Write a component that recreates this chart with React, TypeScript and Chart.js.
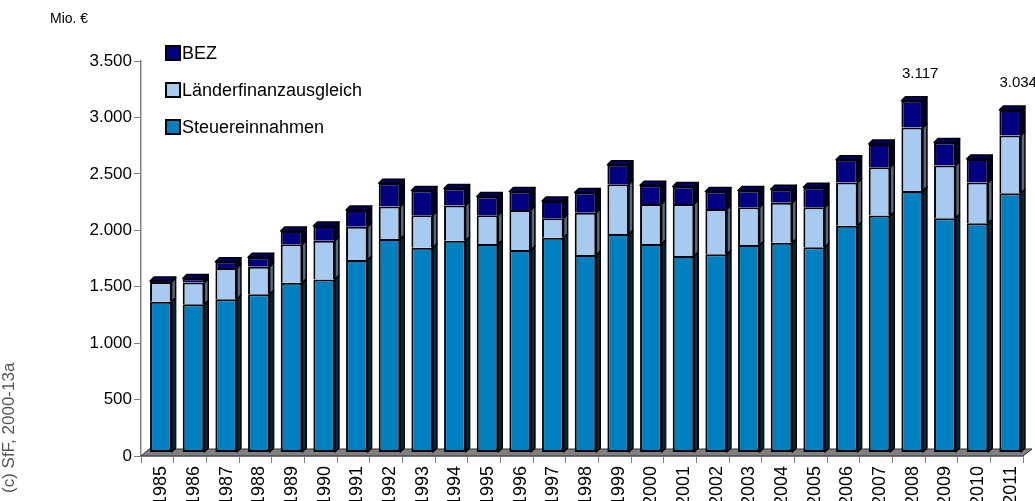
import React, { useEffect, useRef } from "react";
import { Chart, registerables } from "chart.js";

Chart.register(...registerables);

const years = [
  "1985", "1986", "1987", "1988", "1989", "1990", "1991", "1992", "1993",
  "1994", "1995", "1996", "1997", "1998", "1999", "2000", "2001", "2002",
  "2003", "2004", "2005", "2006", "2007", "2008", "2009", "2010", "2011",
];

const steuereinnahmen = [
  1335, 1314, 1359, 1403, 1504, 1534, 1705, 1892, 1815, 1877, 1847, 1794, 1903,
  1750, 1936, 1847, 1741, 1756, 1838, 1859, 1818, 2010, 2099, 2318, 2075, 2031, 2297,
];

const laenderfinanzausgleich = [
  175, 193, 275, 243, 341, 343, 296, 287, 287, 311, 255, 355, 172,
  375, 441, 355, 461, 402, 335, 355, 355, 382, 429, 562, 468, 361, 512,
];

const bez = [
  10, 35, 56, 83, 118, 130, 148, 207, 219, 151, 166, 163, 154,
  178, 172, 166, 155, 154, 148, 119, 178, 201, 205, 237, 204, 208, 225,
];

const annotatedYears = ["2008", "2011"];
const yTicks = [0, 500, 1000, 1500, 2000, 2500, 3000, 3500];

const seriesNames = ["Steuereinnahmen", "Länderfinanzausgleich", "BEZ"];
const frontColors = ["#0080C0", "#A6CAF0", "#000080"];
const sideColors = ["#002a40", "#56697f", "#000038"];
const topColors = ["#005a88", "#7d98b5", "#000060"];

const FONT = "'Liberation Sans', Arial, sans-serif";
const DX = 3.5;
const DY = -3.5;
const DEPTH = 4;

const fmt = (v: number) => v.toLocaleString("de-DE");

const threeD = {
  id: "threeD",
  beforeDatasetsDraw(chart: any) {
    const ctx = chart.ctx;
    const x = chart.scales.x;
    const y = chart.scales.y;
    const y0 = y.getPixelForValue(0);
    ctx.save();
    ctx.beginPath();
    ctx.moveTo(x.left, y0);
    ctx.lineTo(x.right, y0);
    ctx.lineTo(x.right + 9, y0 - 7);
    ctx.lineTo(x.left + 8, y0 - 7);
    ctx.closePath();
    ctx.fillStyle = "#808080";
    ctx.fill();
    ctx.lineWidth = 1;
    ctx.strokeStyle = "#303030";
    ctx.stroke();
    ctx.restore();
    ctx.save();
    ctx.translate(DX, DY);
  },
  afterDatasetsDraw(chart: any) {
    const ctx = chart.ctx;
    const n = chart.data.labels.length;
    for (let i = 0; i < n; i++) {
      let topDs = -1;
      chart.data.datasets.forEach((ds: any, d: number) => {
        if (ds.data[i] > 0) topDs = d;
      });
      chart.data.datasets.forEach((ds: any, d: number) => {
        const el = chart.getDatasetMeta(d).data[i] as any;
        if (!el || !(ds.data[i] > 0)) return;
        const w = el.width;
        const left = el.x - w / 2;
        const right = el.x + w / 2;
        const top = Math.min(el.y, el.base);
        const bottom = Math.max(el.y, el.base);
        ctx.lineWidth = 1.5;
        ctx.strokeStyle = "#000";
        ctx.lineJoin = "round";
        ctx.beginPath();
        ctx.moveTo(right, top);
        ctx.lineTo(right + DEPTH, top - DEPTH);
        ctx.lineTo(right + DEPTH, bottom - DEPTH);
        ctx.lineTo(right, bottom);
        ctx.closePath();
        ctx.fillStyle = sideColors[d];
        ctx.fill();
        ctx.stroke();
        if (d === topDs) {
          ctx.beginPath();
          ctx.moveTo(left, top);
          ctx.lineTo(left + DEPTH, top - DEPTH);
          ctx.lineTo(right + DEPTH, top - DEPTH);
          ctx.lineTo(right, top);
          ctx.closePath();
          ctx.fillStyle = topColors[d];
          ctx.fill();
          ctx.stroke();
        }
      });
    }
    ctx.restore();

    ctx.save();
    ctx.font = `15px ${FONT}`;
    ctx.fillStyle = "#000";
    ctx.textAlign = "center";
    ctx.textBaseline = "middle";
    const last = chart.data.datasets.length - 1;
    annotatedYears.forEach((yr) => {
      const i = chart.data.labels.indexOf(yr);
      if (i < 0) return;
      const el = chart.getDatasetMeta(last).data[i] as any;
      const total = chart.data.datasets.reduce((s: number, ds: any) => s + ds.data[i], 0);
      ctx.fillText(fmt(total), el.x + DX + 8, el.y + DY - 27);
    });
    ctx.restore();
  },
  afterDraw(chart: any) {
    const ctx = chart.ctx;
    ctx.save();
    const rows = [2, 1, 0];
    const ys = [53, 90, 127];
    rows.forEach((d, k) => {
      const yc = ys[k];
      ctx.fillStyle = frontColors[d];
      ctx.fillRect(166, yc - 7, 14, 14);
      ctx.lineWidth = 2;
      ctx.strokeStyle = "#000";
      ctx.strokeRect(166, yc - 7, 14, 14);
      ctx.fillStyle = "#000";
      ctx.font = `18px ${FONT}`;
      ctx.textAlign = "left";
      ctx.textBaseline = "middle";
      ctx.fillText(seriesNames[d], 182, yc + 1);
    });
    ctx.font = `14px ${FONT}`;
    ctx.fillText("Mio. €", 50, 19);
    ctx.translate(9, 493);
    ctx.rotate(-Math.PI / 2);
    ctx.font = `17px ${FONT}`;
    ctx.fillStyle = "#555";
    ctx.textBaseline = "middle";
    ctx.fillText("(c) SfF, 2000-13a", 0, 0);
    ctx.restore();
  },
};

export default function App() {
  const ref = useRef<HTMLCanvasElement | null>(null);
  useEffect(() => {
    if (!ref.current) return;
    const series = [steuereinnahmen, laenderfinanzausgleich, bez];
    const chart = new Chart(ref.current, {
      type: "bar",
      data: {
        labels: years,
        datasets: series.map((s, d) => ({
          label: seriesNames[d],
          data: s,
          backgroundColor: frontColors[d],
          borderColor: "#000",
          borderWidth: 2,
          borderSkipped: d === 0 ? false : "start",
          categoryPercentage: 1,
          barPercentage: 0.66,
          clip: false as any,
        })),
      },
      options: {
        animation: false,
        responsive: false,
        devicePixelRatio: 1,
        layout: { padding: { top: 61, right: 12, left: 0, bottom: 0 } },
        plugins: { legend: { display: false }, tooltip: { enabled: false }, title: { display: false } },
        scales: {
          x: {
            stacked: true,
            grid: { display: true, drawOnChartArea: false, drawTicks: true, tickLength: 7, color: "#808080", offset: true },
            border: { display: true, color: "#808080", width: 1.5 },
            ticks: {
              minRotation: 90,
              maxRotation: 90,
              autoSkip: false,
              padding: 3,
              labelOffset: 4,
              color: "#000",
              font: { size: 18, family: FONT },
            },
            afterFit: (s: any) => { s.height = 45; },
          },
          y: {
            stacked: true,
            min: 0,
            max: 3500,
            afterBuildTicks: (s: any) => { s.ticks = yTicks.map((v) => ({ value: v })); },
            grid: { display: true, drawOnChartArea: false, drawTicks: true, tickLength: 7, color: "#808080" },
            border: { display: true, color: "#808080", width: 1.5 },
            ticks: {
              color: "#000",
              padding: 2,
              font: { size: 17, family: FONT },
              callback: (v: any) => fmt(Number(v)),
            },
            afterFit: (s: any) => { s.width = 141; },
          },
        },
      },
      plugins: [threeD],
    });
    return () => chart.destroy();
  }, []);
  return (
    <div style={{ position: "fixed", left: 0, top: 0, width: 1035, height: 501, background: "#fff" }}>
      <canvas ref={ref} width={1035} height={501} style={{ width: 1035, height: 501 }} />
    </div>
  );
}
